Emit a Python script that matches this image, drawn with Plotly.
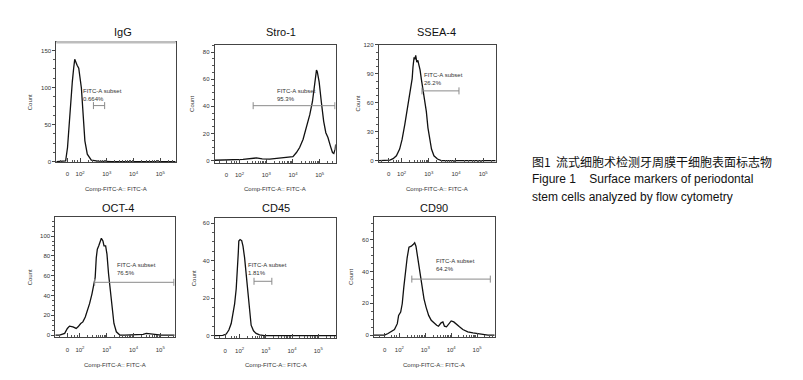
import numpy as np
import plotly.graph_objects as go

W, H = 803, 380

# ---------------- data (x in display units of the biexponential FITC axis: 10^k -> k) ----------------
titles = ["IgG", "Stro-1", "SSEA-4", "OCT-4", "CD45", "CD90"]
gate_pct = ["0.664%", "95.3%", "26.2%", "76.5%", "1.81%", "64.2%"]

igg_x = [1.11, 1.30, 1.46, 1.53, 1.58, 1.65, 1.71, 1.76, 1.80, 1.89, 1.95, 2.05, 2.11, 2.18, 2.27, 2.42, 2.67, 2.9, 3.2, 5.58]
igg_y = [0, 0, 1, 19, 46, 81, 108, 126, 138, 130, 126, 99, 64, 28, 10, 2, 0.6, 0.3, 0, 0]

stro_x = [1.07, 1.51, 2.13, 2.63, 2.85, 3.13, 3.51, 3.88, 4.00, 4.13, 4.25, 4.38, 4.50, 4.63, 4.73, 4.82, 4.88,
          4.91, 4.98, 5.06, 5.15, 5.23, 5.31, 5.40, 5.48, 5.53, 5.58, 5.60]
stro_y = [0.3, 0.5, 1.0, 2.0, 1.3, 1.2, 1.8, 2.5, 2.9, 6.0, 9.7, 15.8, 24.2, 33.9, 43.6, 58.0, 66.7,
          65.5, 58.0, 43.6, 29.0, 20.6, 17.0, 10.9, 6.0, 5.3, 8.5, 12.0]

ssea_x = [1.16, 1.57, 1.69, 1.81, 1.93, 2.02, 2.12, 2.24, 2.34, 2.39, 2.42, 2.46, 2.49, 2.52, 2.56, 2.60, 2.63,
          2.68, 2.73, 2.79, 2.85, 2.91, 2.97, 3.04, 3.10, 3.19, 3.32, 3.46, 5.46]
ssea_y = [0, 0.5, 2, 5, 12, 22, 37.5, 58, 77, 85, 97, 107, 105, 109, 102, 104, 100,
          94, 84, 73, 65, 51, 34, 20, 12, 5, 1.7, 0, 0]

oct_x = [1.08, 1.24, 1.43, 1.53, 1.61, 1.74, 1.86, 1.93, 2.03, 2.11, 2.20, 2.27, 2.36, 2.45, 2.52, 2.57, 2.61,
         2.65, 2.70, 2.75, 2.80, 2.86, 2.90, 2.96, 3.01, 3.07, 3.14, 3.20, 3.27, 3.36, 3.49, 3.67, 4.05, 4.24,
         4.36, 4.48, 4.67, 4.86, 5.04, 5.54]
oct_y = [0, 0, 1.7, 6.7, 9, 8.3, 6.7, 8.3, 11.7, 13.3, 18.3, 23.3, 31.7, 41.7, 51.7, 58.3, 78,
         86.7, 90, 95, 97.7, 95, 90, 90, 81.7, 61.7, 41.7, 25, 11.7, 3.3, 0, 0, 0, 0,
         0.7, 1.7, 1.3, 0.3, 0, 0]

cd45_x = [1.05, 1.24, 1.36, 1.49, 1.59, 1.68, 1.74, 1.81, 1.87, 1.91, 1.95, 1.97, 2.02, 2.08, 2.13, 2.19, 2.25,
          2.32, 2.38, 2.44, 2.53, 2.63, 2.76, 2.95, 5.69]
cd45_y = [0, 0, 0.2, 0.9, 3, 6.5, 10.9, 17, 24.9, 32.8, 44.2, 50.4, 51.2, 50.7, 47.7, 41.6, 32.8,
          22.3, 11.8, 5.6, 2.6, 1.2, 0.4, 0, 0]

cd90_x = [1.02, 1.30, 1.43, 1.56, 1.68, 1.81, 1.92, 1.97, 2.05, 2.11, 2.17, 2.24, 2.30, 2.37, 2.46, 2.53, 2.59,
          2.64, 2.69, 2.75, 2.82, 2.90, 2.95, 3.03, 3.13, 3.23, 3.33, 3.44, 3.51, 3.61, 3.68, 3.74, 3.82, 3.91,
          4.00, 4.10, 4.19, 4.32, 4.45, 4.64, 4.84, 5.03, 5.22, 5.42, 5.68]
cd90_y = [0, 0, 0, 1, 2, 3.5, 7.2, 12.4, 14.5, 19.7, 30, 42.4, 48.6, 55.3, 55.9, 56.9, 58,
          55.9, 50.7, 43.5, 36.2, 30, 22.8, 17.6, 12.4, 9.3, 7.7, 6.2, 5.6, 7.7, 8.3, 5.6, 5.2, 7.2,
          8.9, 8.3, 6.8, 5.2, 3.5, 2.1, 1.4, 1.0, 0.4, 0, 0]

curves_x = [igg_x, stro_x, ssea_x, oct_x, cd45_x, cd90_x]
curves_y = [igg_y, stro_y, ssea_y, oct_y, cd45_y, cd90_y]

gate_lo = [2.50, 2.51, 2.75, 2.55, 2.55, 2.48]
gate_hi = [2.92, 5.57, 4.11, 5.51, 3.23, 5.51]
gate_level = [75.6, 40.5, 72.3, 53.3, 29.0, 35.2]
label_x = [2.05, 3.32, 2.75, 3.32, 2.23, 3.33]
label_y1 = [95.6, 51.4, 88.6, 71.0, 37.7, 46.6]
label_y2 = [84.9, 45.6, 80.0, 62.3, 33.3, 41.4]

y_ticks = [[0, 50, 100, 150], [0, 20, 40, 60, 80], [0, 30, 60, 90, 120],
           [0, 20, 40, 60, 80, 100], [0, 20, 40, 60], [0, 20, 40, 60]]
zero_pos = [1.53, 1.51, 1.53, 1.53, 1.45, 1.43]
x_tick_text = ["0", "10<sup>2</sup>", "10<sup>3</sup>", "10<sup>4</sup>", "10<sup>5</sup>"]

# ---------------- layout geometry (pixels) ----------------
boxes = [  # x0, x1, y0(top), y1(bottom)
    (48.3, 167.7, 31.7, 153.3),
    (206.7, 327.7, 34.3, 154.0),
    (370.7, 487.7, 34.3, 153.3),
    (47.3, 166.7, 209.0, 330.7),
    (206.7, 328.3, 210.0, 331.7),
    (366.0, 486.7, 208.3, 330.7),
]
x_ranges = [(1.11, 5.58), (1.07, 5.60), (1.16, 5.46), (1.08, 5.54), (1.05, 5.69), (1.02, 5.68)]
y_ranges = [(-0.9, 161), (-1.7, 85.3), (-1.7, 120), (-2.3, 119), (-1.4, 62.6), (-1.4, 74.5)]
title_pos = [(115, 21), (273, 21), (428, 21), (110, 200), (268, 200), (426, 200)]
count_x = [22, 184, 350, 22, 186, 343]
xtitle_y = [180, 180, 180, 359, 359, 359]

TXT = "Liberation Sans, Arial, sans-serif"
fig = go.Figure()

minor_vals = [1.25, 1.7, 1.8, 1.9] + [k + np.log10(m) for k in range(2, 6) for m in range(2, 10)]

annotations = []
for i in range(6):
    ax = "" if i == 0 else str(i + 1)
    x0, x1, yt, yb = boxes[i]
    fig.add_trace(go.Scatter(x=curves_x[i], y=curves_y[i], mode="lines",
                             line=dict(color="#111", width=1.3), xaxis="x" + ax, yaxis="y" + ax,
                             showlegend=False, hoverinfo="skip"))
    fig.add_trace(go.Scatter(x=[gate_lo[i], gate_hi[i]], y=[gate_level[i], gate_level[i]],
                             mode="lines+markers", line=dict(color="#8a8a8a", width=1),
                             marker=dict(symbol="line-ns", size=5, line=dict(color="#8a8a8a", width=1)),
                             xaxis="x" + ax, yaxis="y" + ax, showlegend=False, hoverinfo="skip"))
    xa = dict(domain=[x0 / W, x1 / W], range=list(x_ranges[i]), anchor="y" + ax,
              showline=True, mirror=True, linecolor="#444", linewidth=1,
              showgrid=False, zeroline=False,
              tickmode="array", tickvals=[zero_pos[i], 2, 3, 4, 5], ticktext=x_tick_text,
              ticks="inside", ticklen=4, tickcolor="#444", tickwidth=1,
              ticklabelstandoff=6,
              tickfont=dict(family=TXT, size=6, color="#333"),
              minor=dict(tickmode="array", tickvals=minor_vals, ticks="inside", ticklen=2,
                         tickcolor="#555", tickwidth=1, showgrid=False))
    ya = dict(domain=[1 - yb / H, 1 - yt / H], range=list(y_ranges[i]), anchor="x" + ax,
              showline=True, mirror=True, linecolor="#444", linewidth=1,
              showgrid=False, zeroline=False,
              tickmode="array", tickvals=y_ticks[i],
              ticks="outside", ticklen=3, tickcolor="#444", tickwidth=1,
              tickfont=dict(family=TXT, size=6, color="#333"),
              minor=dict(tickmode="array",
                         tickvals=[v + (y_ticks[i][1] - y_ticks[i][0]) * f / 4
                                   for v in y_ticks[i] for f in (1, 2, 3)],
                         ticks="outside", ticklen=2, tickcolor="#555", tickwidth=1, showgrid=False))
    fig.update_layout(**{"xaxis" + ax: xa, "yaxis" + ax: ya})

    annotations.append(dict(text=titles[i], x=title_pos[i][0] / W, y=1 - title_pos[i][1] / H,
                            xref="paper", yref="paper", showarrow=False, xanchor="center", yanchor="middle",
                            font=dict(family=TXT, size=11, color="#111")))
    annotations.append(dict(text="Count", x=count_x[i] / W, y=1 - (yt + yb) / 2 / H, textangle=-90,
                            xref="paper", yref="paper", showarrow=False, xanchor="center", yanchor="middle",
                            font=dict(family=TXT, size=6, color="#333")))
    annotations.append(dict(text="Comp-FITC-A:: FITC-A", x=(x0 + x1) / 2 / W, y=1 - xtitle_y[i] / H,
                            xref="paper", yref="paper", showarrow=False, xanchor="center", yanchor="middle",
                            font=dict(family=TXT, size=6, color="#333")))
    for ly, txt in ((label_y1[i], "FITC-A subset"), (label_y2[i], gate_pct[i])):
        annotations.append(dict(text=txt, x=label_x[i], y=ly, xref="x" + ax, yref="y" + ax,
                                showarrow=False, xanchor="left", yanchor="middle",
                                font=dict(family=TXT, size=6, color="#333")))

# light grey top frame of the IgG panel
fig.add_shape(type="line", xref="x domain", yref="y domain", x0=0, x1=1, y0=1, y1=1,
              line=dict(color="#bdbdbd", width=2.5))

# caption
caption = [("图1  流式细胞术检测牙周膜干细胞表面标志物", 152.3, "Noto Sans CJK SC"),
           ("Figure 1    Surface markers of periodontal", 170.7, TXT),
           ("stem cells analyzed by flow cytometry", 188.3, TXT)]
for txt, yy, fam in caption:
    annotations.append(dict(text=txt, x=522 / W, y=1 - yy / H, xref="paper", yref="paper",
                            showarrow=False, xanchor="left", yanchor="middle",
                            font=dict(family=fam, size=12, color="#111")))

fig.update_layout(width=W, height=H, margin=dict(l=0, r=0, t=0, b=0),
                  paper_bgcolor="white", plot_bgcolor="white", annotations=annotations)
fig.write_html("out.html")
